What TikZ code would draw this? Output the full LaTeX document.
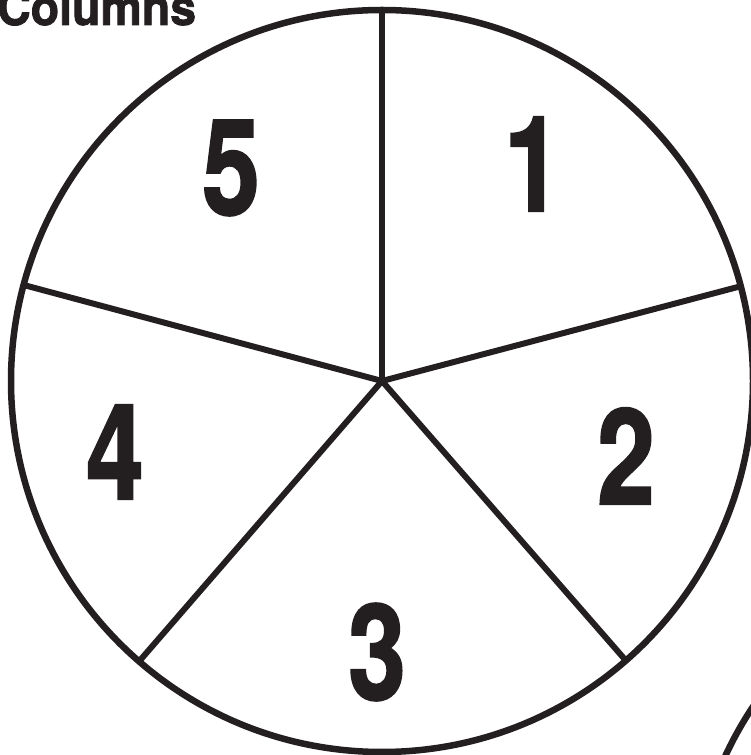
\documentclass[tikz,border=0pt]{standalone}
\usepackage{fontspec}
\setmainfont{TeX Gyre Heros}
\newfontfamily\heavy{TeX Gyre Heros}[BoldFeatures={FakeBold=1.6}]
\usetikzlibrary{calc}
\definecolor{ink}{HTML}{231F20}
\tikzset{
  rim/.style={draw=ink,line width=6.5pt},
  spoke/.style={draw=ink,line width=6pt},
  digit/.style={text=ink,inner sep=0pt,font=\fontsize{133}{133}\heavy\bfseries,xscale=0.78},
  title/.style={text=ink,inner sep=0pt,font=\fontsize{50}{50}\heavy\bfseries,xscale=0.93}
}
\begin{document}
\begin{tikzpicture}[x=1pt,y=1pt]
\useasboundingbox (0,0) rectangle (751,755);
\clip (0,0) rectangle (751,755);
\coordinate (c) at (382,374);
\draw[rim] (c) circle (371);
\draw[rim] (1062,-157) circle (371);
\foreach \a/\n in {90/p1,14.8/p2,-48.9/p3,-130.9/p4,165/p5}{
  \coordinate (\n) at ($(c)+(\a:371)$);
}
\foreach \n in {p1,p2,p3,p4,p5}{
  \draw[spoke,line cap=round] (c) -- (\n);
}
\node[digit] (d5) at (231,587) {5};
\node[digit] (d1) at (533,591) {1};
\node[digit] (d2) at (626,299) {2};
\node[digit] (d4) at (115,303) {4};
\node[digit] (d3) at (377,103) {3};
\node[title,anchor=base west] (t) at (-3,730) {Columns};
\end{tikzpicture}
\end{document}
